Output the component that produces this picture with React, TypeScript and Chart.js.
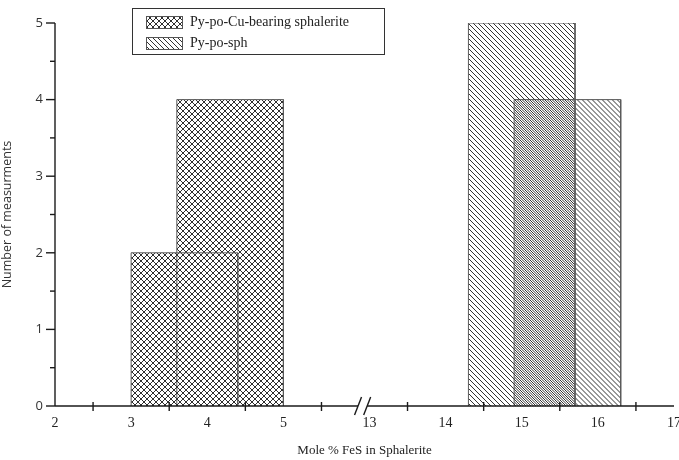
import { useEffect, useRef } from 'react';
import { Chart, registerables } from 'chart.js';

Chart.register(...registerables);

// ---- data ----
const crossBinStarts = [3.0, 3.6];
const crossCounts = [2, 4];
const sphBinStarts = [14.3, 14.9];
const sphCounts = [5, 4];
const binWidth = 1.4;
const seriesLabels = ['Py-po-Cu-bearing sphalerite', 'Py-po-sph'];
const xTickValues = [2, 3, 4, 5, 13, 14, 15, 16, 17];
const xMinorTickValues = [2.5, 3.5, 4.5, 5.5, 13.5, 14.5, 15.5, 16.5];
const yTickValues = [0, 1, 2, 3, 4, 5];
const yMinorTickValues = [0.5, 1.5, 2.5, 3.5, 4.5];

// broken x axis: values >= 13 are shifted left on the axis
const BREAK_SHIFT = 6.87;
const BREAK_LEFT_U = 5.98;
const BREAK_RIGHT_U = 6.1;

function toAxis(v: number) {
  return v >= 13 ? v - BREAK_SHIFT : v;
}

function makePattern(kind: 'cross' | 'diag' | 'diag2') {
  const s = kind === 'cross' ? 6 : 5;
  const c = document.createElement('canvas');
  c.width = s;
  c.height = s;
  const g = c.getContext('2d')!;
  g.strokeStyle = kind === 'cross' ? '#2e2e2e' : '#333';
  g.lineWidth = 1;
  g.beginPath();
  const off = kind === 'diag2' ? s / 2 : 0;
  for (let k = -2; k <= 2; k++) {
    // "\" lines
    g.moveTo(off + k * s, 0);
    g.lineTo(off + k * s + s, s);
    if (kind === 'cross') {
      // "/" lines
      g.moveTo(k * s, s);
      g.lineTo(k * s + s, 0);
    }
  }
  g.stroke();
  return g.createPattern(c, 'repeat')!;
}

function rectPoints(start: number, count: number) {
  const a = toAxis(start);
  const b = toAxis(start + binWidth);
  return [
    { x: a, y: 0 },
    { x: a, y: count },
    { x: b, y: count },
    { x: b, y: 0 },
  ];
}

const SERIF = '"Liberation Serif", "DejaVu Serif", serif';
const SANS = '"Open Sans", "DejaVu Sans", sans-serif';

export default function App() {
  const ref = useRef<HTMLCanvasElement | null>(null);

  useEffect(() => {
    if (!ref.current) return;
    const crossPat = makePattern('cross');
    const diagPat = makePattern('diag');
    const diagPat2 = makePattern('diag2');

    const datasets: any[] = [];
    crossBinStarts.forEach((s, i) => {
      datasets.push({
        label: seriesLabels[0],
        data: rectPoints(s, crossCounts[i]),
        backgroundColor: crossPat,
        borderColor: '#5a5a5a',
        borderWidth: 1,
        pointRadius: 0,
        tension: 0,
        fill: 'origin',
      });
    });
    sphBinStarts.forEach((s, i) => {
      datasets.push({
        label: seriesLabels[1],
        data: rectPoints(s, sphCounts[i]),
        backgroundColor: i === 0 ? diagPat : diagPat2,
        borderColor: '#5a5a5a',
        borderWidth: 1,
        pointRadius: 0,
        tension: 0,
        fill: 'origin',
      });
    });

    const axesPlugin = {
      id: 'customAxes',
      afterDraw(chart: any) {
        const ctx = chart.ctx as CanvasRenderingContext2D;
        const xs = chart.scales.x;
        const ys = chart.scales.y;
        const x0 = xs.getPixelForValue(2);
        const xEnd = xs.getPixelForValue(toAxis(17));
        const y0 = ys.getPixelForValue(0);
        const yTop = ys.getPixelForValue(5);
        const line = (a: number, b: number, c: number, d: number) => {
          ctx.beginPath();
          ctx.moveTo(a, b);
          ctx.lineTo(c, d);
          ctx.stroke();
        };
        ctx.save();
        ctx.strokeStyle = '#1a1a1a';
        ctx.lineWidth = 1.4;
        // y axis
        line(x0, y0, x0, yTop);
        yTickValues.forEach((v) => {
          const p = ys.getPixelForValue(v);
          line(x0 - 9, p, x0, p);
        });
        yMinorTickValues.forEach((v) => {
          const p = ys.getPixelForValue(v);
          line(x0 - 5, p, x0, p);
        });
        // x axis with break
        const bL = xs.getPixelForValue(BREAK_LEFT_U);
        const bR = xs.getPixelForValue(BREAK_RIGHT_U);
        line(x0, y0, bL, y0);
        line(bR, y0, xEnd, y0);
        line(bL - 3.5, y0 + 9, bL + 3.5, y0 - 9);
        line(bR - 3.5, y0 + 9, bR + 3.5, y0 - 9);
        xMinorTickValues.forEach((v) => {
          const p = xs.getPixelForValue(toAxis(v));
          line(p, y0 - 4, p, y0 + 5);
        });

        // legend
        const bx = 132.5, by = 8.5, bw = 252, bh = 46;
        ctx.lineWidth = 1;
        ctx.strokeStyle = '#333';
        ctx.strokeRect(bx, by, bw, bh);
        const pats = [crossPat, diagPat];
        const rows = [22, 43];
        ctx.font = '14px ' + SERIF;
        ctx.textBaseline = 'middle';
        ctx.fillStyle = '#222';
        rows.forEach((ry, i) => {
          ctx.fillStyle = pats[i];
          ctx.fillRect(146, ry - 6, 36, 12);
          ctx.strokeStyle = '#555';
          ctx.strokeRect(146.5, ry - 5.5, 36, 12);
          ctx.fillStyle = '#222';
          ctx.fillText(seriesLabels[i], 190, ry);
        });
        ctx.restore();
      },
    };

    const chart = new Chart(ref.current, {
      type: 'line',
      data: { datasets },
      plugins: [axesPlugin],
      options: {
        animation: false,
        responsive: false,
        events: [],
        layout: { padding: { top: 23, right: 5, left: 0, bottom: 0 } },
        plugins: {
          legend: { display: false },
          tooltip: { enabled: false },
        },
        scales: {
          x: {
            type: 'linear',
            min: 2,
            max: toAxis(17),
            grid: { display: false, drawTicks: false },
            border: { display: false },
            afterBuildTicks: (s: any) => {
              s.ticks = xTickValues.map((v) => ({ value: toAxis(v) }));
            },
            afterFit: (s: any) => {
              s.height = 54;
              s.paddingLeft = 0;
              s.paddingRight = 0;
            },
            ticks: {
              autoSkip: false,
              maxRotation: 0,
              padding: 9,
              color: '#222',
              font: { family: SERIF, size: 14 },
              callback: (_v: any, i: number) => String(xTickValues[i]),
            },
            title: {
              display: true,
              text: 'Mole % FeS in Sphalerite',
              color: '#222',
              font: { family: SERIF, size: 13 },
              padding: { top: 0, bottom: 2 },
            },
          },
          y: {
            type: 'linear',
            min: 0,
            max: 5,
            grid: { display: false, drawTicks: false },
            border: { display: false },
            afterBuildTicks: (s: any) => {
              s.ticks = yTickValues.map((v) => ({ value: v }));
            },
            afterFit: (s: any) => {
              s.width = 55;
              s.paddingTop = 0;
              s.paddingBottom = 0;
            },
            ticks: {
              padding: 12,
              color: '#333',
              font: { family: SANS, size: 13 },
              callback: (v: any) => String(v),
            },
            title: {
              display: true,
              text: 'Number of measurments',
              color: '#333',
              font: { family: SANS, size: 12.5 },
              padding: { top: 0, bottom: 0 },
            },
          },
        },
      },
    });
    return () => chart.destroy();
  }, []);

  return (
    <div style={{ position: 'absolute', left: 0, top: 0, width: 679, height: 460, background: '#fff' }}>
      <canvas ref={ref} width={679} height={460} style={{ display: 'block' }} />
    </div>
  );
}
